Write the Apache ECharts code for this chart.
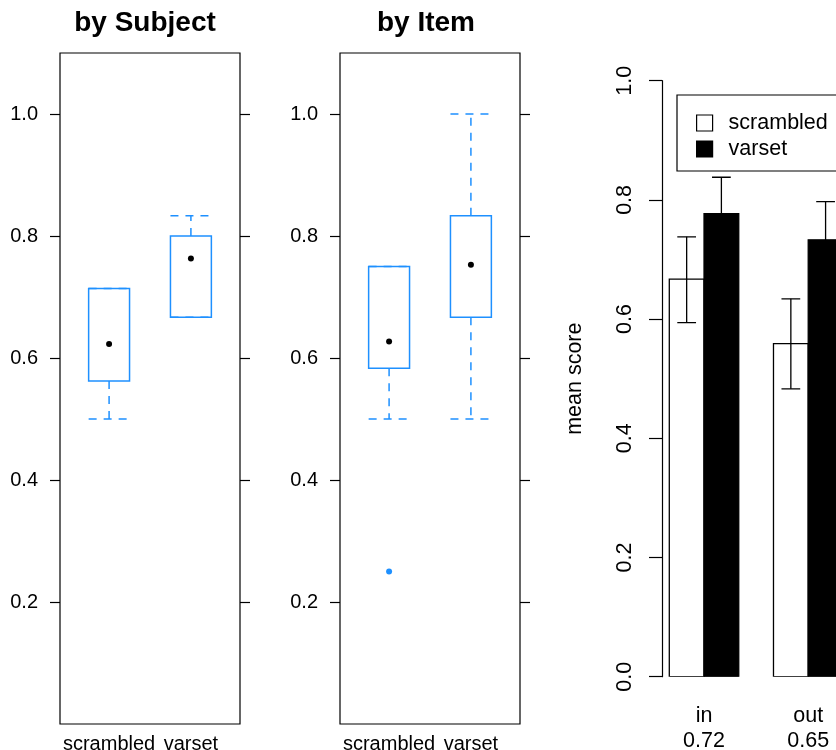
<!DOCTYPE html>
<html>
<head>
<meta charset="utf-8">
<script src="https://cdn.jsdelivr.net/npm/echarts@6/dist/echarts.min.js"></script>
<style>
html,body{margin:0;padding:0;background:#fff;}
#chart{width:836px;height:750px;}
</style>
</head>
<body>
<div id="chart"></div>
<script>
// ---------- data ----------
const boxCats = ['scrambled', 'varset'];
const boxTicks = [0.2, 0.4, 0.6, 0.8, 1.0];

// by Subject
const subjLow  = [0.5, 0.667];
const subjQ1   = [0.5625, 0.667];
const subjQ3   = [0.714, 0.8];
const subjHigh = [0.714, 0.833];
const subjMean = [0.623, 0.763];
const subjOutliers = [[], []];

// by Item
const itemLow  = [0.5, 0.5];
const itemQ1   = [0.583, 0.667];
const itemQ3   = [0.75, 0.833];
const itemHigh = [0.75, 1.0];
const itemMean = [0.627, 0.753];
const itemOutliers = [[0.25], []];

// bar plot
const barGroups = ['in', 'out'];
const groupScores = ['0.72', '0.65'];
const barTicks = [0, 0.2, 0.4, 0.6, 0.8, 1.0];
const scrMean = [0.667, 0.559];
const scrLo   = [0.594, 0.483];
const scrHi   = [0.738, 0.634];
const varMean = [0.777, 0.733];
const varLo   = [0.716, 0.669];
const varHi   = [0.838, 0.797];

// ---------- styles ----------
const BLUE = '#1E90FF';
const FONT = 'Liberation Sans, Arial, Helvetica, sans-serif';

function boxData(lo, q1, q3, hi) {
  return boxCats.map((c, i) => [i + 1, lo[i], q1[i], q3[i], hi[i]]);
}
function meanData(m) { return boxCats.map((c, i) => [i + 1, m[i]]); }
function outData(outs) {
  const d = [];
  outs.forEach((arr, i) => arr.forEach(v => d.push([i + 1, v])));
  return d;
}

function renderBox(params, api) {
  const x = api.value(0), lo = api.value(1), q1 = api.value(2), q3 = api.value(3), hi = api.value(4);
  const hw = 0.25;
  const a = api.coord([x - hw, q3]);
  const b = api.coord([x + hw, q1]);
  const cHi = api.coord([x, hi]), cQ3 = api.coord([x, q3]);
  const cQ1 = api.coord([x, q1]), cLo = api.coord([x, lo]);
  const dash = { stroke: BLUE, lineWidth: 1.5, lineDash: [8, 7], fill: null };
  const solid = { stroke: BLUE, lineWidth: 1.5, fill: null };
  const children = [];
  children.push({ type: 'line', shape: { x1: cQ3[0], y1: cQ3[1], x2: cHi[0], y2: cHi[1] }, style: dash });
  children.push({ type: 'line', shape: { x1: cQ1[0], y1: cQ1[1], x2: cLo[0], y2: cLo[1] }, style: dash });
  children.push({ type: 'rect', shape: { x: a[0], y: a[1], width: b[0] - a[0], height: b[1] - a[1] }, style: solid });
  children.push({ type: 'line', shape: { x1: a[0], y1: cHi[1], x2: b[0], y2: cHi[1] }, style: dash });
  children.push({ type: 'line', shape: { x1: a[0], y1: cLo[1], x2: b[0], y2: cLo[1] }, style: dash });
  return { type: 'group', children: children };
}

function makeBarRender(offset, fill) {
  return function (params, api) {
    const g = api.value(0), m = api.value(1), lo = api.value(2), hi = api.value(3);
    const x0 = 1 + 3 * g + offset;
    const p1 = api.coord([x0, m]);
    const p2 = api.coord([x0 + 1, 0]);
    const cw = 0.27;
    const eHi = api.coord([x0 + 0.5, hi]);
    const eLo = api.coord([x0 + 0.5, lo]);
    const cL = api.coord([x0 + 0.5 - cw, hi]);
    const cR = api.coord([x0 + 0.5 + cw, hi]);
    const es = { stroke: '#000', lineWidth: 1.3 };
    return {
      type: 'group',
      children: [
        { type: 'rect', shape: { x: p1[0], y: p1[1], width: p2[0] - p1[0], height: p2[1] - p1[1] },
          style: { fill: fill, stroke: '#000', lineWidth: 1.3 } },
        { type: 'line', shape: { x1: eHi[0], y1: eHi[1], x2: eLo[0], y2: eLo[1] }, style: es },
        { type: 'line', shape: { x1: cL[0], y1: eHi[1], x2: cR[0], y2: eHi[1] }, style: es },
        { type: 'line', shape: { x1: cL[0], y1: eLo[1], x2: cR[0], y2: eLo[1] }, style: es }
      ]
    };
  };
}

function boxYAxes(gridIndex) {
  const common = {
    type: 'value', gridIndex: gridIndex, min: 0, max: 1.1,
    axisLine: { show: false },
    splitLine: { show: false },
    axisTick: { show: true, inside: false, length: 10, customValues: boxTicks, lineStyle: { color: '#000', width: 1.2 } }
  };
  return [
    Object.assign({}, common, {
      position: 'left',
      axisLabel: { show: true, customValues: boxTicks, formatter: v => Number(v).toFixed(1),
        margin: 22, fontSize: 20, fontFamily: FONT, color: '#000' }
    }),
    Object.assign({}, common, {
      position: 'right',
      axisLabel: { show: false }
    })
  ];
}

function boxXAxis(gridIndex) {
  return {
    type: 'value', gridIndex: gridIndex, min: 0.4, max: 2.6,
    axisLine: { show: false }, axisTick: { show: false }, splitLine: { show: false },
    axisLabel: { show: true, customValues: [1, 2], formatter: v => boxCats[Math.round(v) - 1],
      margin: 10, fontSize: 20, fontFamily: FONT, color: '#000' }
  };
}

const chart = echarts.init(document.getElementById('chart'), null, { renderer: 'canvas' });

const gridCommon = { show: true, borderColor: '#000', borderWidth: 1.2, backgroundColor: 'transparent', containLabel: false, outerBoundsMode: 'none' };

const option = {
  backgroundColor: '#fff',
  animation: false,
  textStyle: { fontFamily: FONT },
  grid: [
    Object.assign({}, gridCommon, { left: 60, top: 53, width: 180, height: 671 }),
    Object.assign({}, gridCommon, { left: 340, top: 53, width: 180, height: 671 }),
    { show: false, left: 662, right: 0, top: 80.7, height: 596, containLabel: false, outerBoundsMode: 'none' }
  ],
  xAxis: [
    boxXAxis(0),
    boxXAxis(1),
    {
      type: 'value', gridIndex: 2, min: 0.79, max: 5.8,
      axisLine: { show: false }, axisTick: { show: false }, splitLine: { show: false },
      axisLabel: { show: true, customValues: [2, 5],
        formatter: v => { const g = Math.round((v - 2) / 3); return barGroups[g] + '\n' + groupScores[g]; },
        margin: 27, lineHeight: 25, fontSize: 21.5, fontFamily: FONT, color: '#000' }
    }
  ],
  yAxis: [].concat(boxYAxes(0), boxYAxes(1), [{
    type: 'value', gridIndex: 2, min: 0, max: 1.0, position: 'left',
    name: 'mean score', nameLocation: 'middle', nameGap: 76, nameRotate: 90,
    nameTextStyle: { fontSize: 21.5, fontFamily: FONT, color: '#000' },
    axisLine: { show: true, lineStyle: { color: '#000', width: 1.2 } },
    splitLine: { show: false },
    axisTick: { show: true, inside: false, length: 13, customValues: barTicks, lineStyle: { color: '#000', width: 1.2 } },
    axisLabel: { show: true, customValues: barTicks, rotate: 90, formatter: v => Number(v).toFixed(1),
      margin: 26, fontSize: 21.5, fontFamily: FONT, color: '#000' }
  }]),
  legend: {
    show: true,
    orient: 'vertical',
    left: 677, top: 95,
    padding: [17, 90, 11, 19],
    itemGap: 4,
    itemWidth: 16, itemHeight: 16,
    borderColor: '#000', borderWidth: 1.2,
    selectedMode: false,
    textStyle: { fontSize: 21.5, fontFamily: FONT, color: '#000', padding: [0, 0, 0, 11] },
    data: [
      { name: 'scrambled', icon: 'rect', itemStyle: { color: '#fff', borderColor: '#000', borderWidth: 1.2 } },
      { name: 'varset', icon: 'rect', itemStyle: { color: '#000', borderColor: '#000', borderWidth: 1.2 } }
    ]
  },
  graphic: [
    { type: 'text', x: 145, y: 23, style: { text: 'by Subject', font: 'bold 28px ' + FONT, fill: '#000', align: 'center', verticalAlign: 'middle' } },
    { type: 'text', x: 426, y: 23, style: { text: 'by Item', font: 'bold 28px ' + FONT, fill: '#000', align: 'center', verticalAlign: 'middle' } }
  ],
  series: [
    { type: 'custom', name: 'subjectBox', xAxisIndex: 0, yAxisIndex: 0, renderItem: renderBox,
      encode: { x: 0, y: [1, 2, 3, 4] }, data: boxData(subjLow, subjQ1, subjQ3, subjHigh), silent: true },
    { type: 'scatter', name: 'subjectMean', xAxisIndex: 0, yAxisIndex: 0, symbol: 'circle', symbolSize: 6,
      itemStyle: { color: '#000', opacity: 1 }, data: meanData(subjMean), silent: true, z: 5 },
    { type: 'scatter', name: 'subjectOut', xAxisIndex: 0, yAxisIndex: 0, symbol: 'circle', symbolSize: 6,
      itemStyle: { color: BLUE, opacity: 1 }, data: outData(subjOutliers), silent: true, z: 5 },

    { type: 'custom', name: 'itemBox', xAxisIndex: 1, yAxisIndex: 2, renderItem: renderBox,
      encode: { x: 0, y: [1, 2, 3, 4] }, data: boxData(itemLow, itemQ1, itemQ3, itemHigh), silent: true },
    { type: 'scatter', name: 'itemMean', xAxisIndex: 1, yAxisIndex: 2, symbol: 'circle', symbolSize: 6,
      itemStyle: { color: '#000', opacity: 1 }, data: meanData(itemMean), silent: true, z: 5 },
    { type: 'scatter', name: 'itemOut', xAxisIndex: 1, yAxisIndex: 2, symbol: 'circle', symbolSize: 6,
      itemStyle: { color: BLUE, opacity: 1 }, data: outData(itemOutliers), silent: true, z: 5 },

    { type: 'custom', name: 'scrambled', xAxisIndex: 2, yAxisIndex: 4, clip: true,
      renderItem: makeBarRender(0, '#fff'), itemStyle: { color: '#fff', borderColor: '#000' },
      encode: { x: 0, y: [1, 2, 3] },
      data: barGroups.map((g, i) => [i, scrMean[i], scrLo[i], scrHi[i]]), silent: true },
    { type: 'custom', name: 'varset', xAxisIndex: 2, yAxisIndex: 4, clip: true,
      renderItem: makeBarRender(1, '#000'), itemStyle: { color: '#000' },
      encode: { x: 0, y: [1, 2, 3] },
      data: barGroups.map((g, i) => [i, varMean[i], varLo[i], varHi[i]]), silent: true }
  ]
};

chart.setOption(option);
</script>
</body>
</html>
